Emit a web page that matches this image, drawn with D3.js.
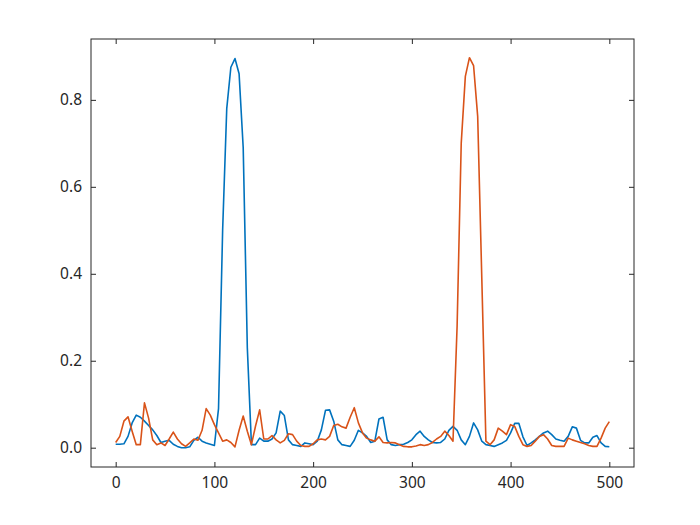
<!DOCTYPE html>
<html>
<head>
<meta charset="utf-8">
<script src="https://cdn.jsdelivr.net/npm/d3@7"></script>
<style>
  html, body { margin: 0; padding: 0; background: #fff; }
  svg text { font-family: "Noto Sans", "Open Sans", sans-serif; fill: #262626; }
</style>
</head>
<body>
<svg id="chart" width="700" height="525"></svg>
<script>
// sample grid: 121 points from 0 to 500
const xs = d3.range(121).map((i) => (i * 500) / 120);

const blueValues = [
  0.008, 0.008, 0.009, 0.026, 0.057, 0.075, 0.070, 0.061, 0.051, 0.041,
  0.028, 0.012, 0.015, 0.017, 0.008, 0.003, 0.000, 0.000, 0.002, 0.017,
  0.024, 0.015, 0.011, 0.008, 0.005, 0.090, 0.500, 0.780, 0.875, 0.895,
  0.860, 0.690, 0.230, 0.007, 0.007, 0.022, 0.015, 0.015, 0.020, 0.034,
  0.084, 0.074, 0.018, 0.007, 0.005, 0.003, 0.011, 0.009, 0.007, 0.015,
  0.041, 0.086, 0.087, 0.061, 0.018, 0.007, 0.005, 0.003, 0.017, 0.040,
  0.034, 0.026, 0.012, 0.015, 0.066, 0.070, 0.018, 0.007, 0.005, 0.007,
  0.008, 0.012, 0.018, 0.030, 0.038, 0.026, 0.018, 0.012, 0.011, 0.012,
  0.020, 0.040, 0.049, 0.040, 0.018, 0.007, 0.026, 0.057, 0.041, 0.015,
  0.007, 0.005, 0.003, 0.007, 0.011, 0.017, 0.034, 0.056, 0.056, 0.025,
  0.005, 0.011, 0.018, 0.026, 0.034, 0.038, 0.030, 0.020, 0.017, 0.015,
  0.026, 0.048, 0.045, 0.017, 0.011, 0.011, 0.024, 0.028, 0.011, 0.003,
  0.002
];

const orangeValues = [
  0.012, 0.026, 0.061, 0.071, 0.038, 0.007, 0.007, 0.103, 0.068, 0.018,
  0.007, 0.011, 0.005, 0.020, 0.036, 0.020, 0.009, 0.003, 0.011, 0.020,
  0.017, 0.040, 0.090, 0.075, 0.053, 0.034, 0.015, 0.018, 0.012, 0.002,
  0.040, 0.073, 0.038, 0.007, 0.050, 0.087, 0.020, 0.020, 0.028, 0.018,
  0.011, 0.017, 0.032, 0.030, 0.015, 0.005, 0.003, 0.003, 0.009, 0.018,
  0.020, 0.018, 0.026, 0.051, 0.054, 0.048, 0.045, 0.070, 0.092, 0.057,
  0.034, 0.022, 0.018, 0.015, 0.025, 0.012, 0.011, 0.012, 0.011, 0.007,
  0.003, 0.002, 0.002, 0.004, 0.007, 0.005, 0.007, 0.012, 0.020, 0.026,
  0.038, 0.028, 0.015, 0.280, 0.700, 0.854, 0.897, 0.879, 0.762, 0.390,
  0.015, 0.007, 0.018, 0.045, 0.038, 0.030, 0.053, 0.049, 0.026, 0.007,
  0.003, 0.005, 0.015, 0.026, 0.030, 0.020, 0.005, 0.003, 0.003, 0.003,
  0.022, 0.018, 0.015, 0.012, 0.009, 0.005, 0.003, 0.003, 0.022, 0.045,
  0.060
];

const xTicks = [0, 100, 200, 300, 400, 500];
const yTicks = [0, 0.2, 0.4, 0.6, 0.8];

const margin = { left: 91, right: 66, top: 39, bottom: 58 };
const W = 700, H = 525;
const iw = W - margin.left - margin.right;
const ih = H - margin.top - margin.bottom;

const svg = d3.select("#chart");
const g = svg.append("g").attr("transform", `translate(${margin.left},${margin.top})`);

const x = d3.scaleLinear().domain([-25, 525]).range([0, iw]);
const y = d3.scaleLinear().domain([-0.0444, 0.940]).range([ih, 0]);

// series
const line = d3.line().x((d) => x(d[0])).y((d) => y(d[1]));
const series = [
  { values: blueValues, color: "#0072BD" },
  { values: orangeValues, color: "#D95319" }
];
series.forEach((s) => {
  g.append("path")
    .datum(xs.map((v, i) => [v, s.values[i]]))
    .attr("fill", "none")
    .attr("stroke", s.color)
    .attr("stroke-width", 1.6)
    .attr("stroke-linejoin", "round")
    .attr("d", line);
});

// axes: inward ticks on all sides, MATLAB style
const tickLen = 5;
const fmtY = d3.format(".1f");

const axBottom = g.append("g").attr("transform", `translate(0,${ih})`)
  .call(d3.axisBottom(x).tickValues(xTicks).tickSizeInner(-tickLen).tickSizeOuter(0).tickPadding(10));
const axTop = g.append("g")
  .call(d3.axisTop(x).tickValues(xTicks).tickSizeInner(-tickLen).tickSizeOuter(0).tickFormat(""));
const axLeft = g.append("g")
  .call(d3.axisLeft(y).tickValues(yTicks).tickFormat(fmtY).tickSizeInner(-tickLen).tickSizeOuter(0).tickPadding(9));
const axRight = g.append("g").attr("transform", `translate(${iw},0)`)
  .call(d3.axisRight(y).tickValues(yTicks).tickSizeInner(-tickLen).tickSizeOuter(0).tickFormat(""));

[axBottom, axTop, axLeft, axRight].forEach((a) => {
  a.select(".domain").remove();
  a.selectAll(".tick line").attr("stroke", "#262626");
  a.selectAll("text").attr("font-size", 15.5).attr("fill", "#262626")
    .attr("font-family", "'Noto Sans', 'Open Sans', sans-serif");
});

g.append("rect")
  .attr("width", iw).attr("height", ih)
  .attr("fill", "none").attr("stroke", "#262626").attr("stroke-width", 1);
</script>
</body>
</html>
